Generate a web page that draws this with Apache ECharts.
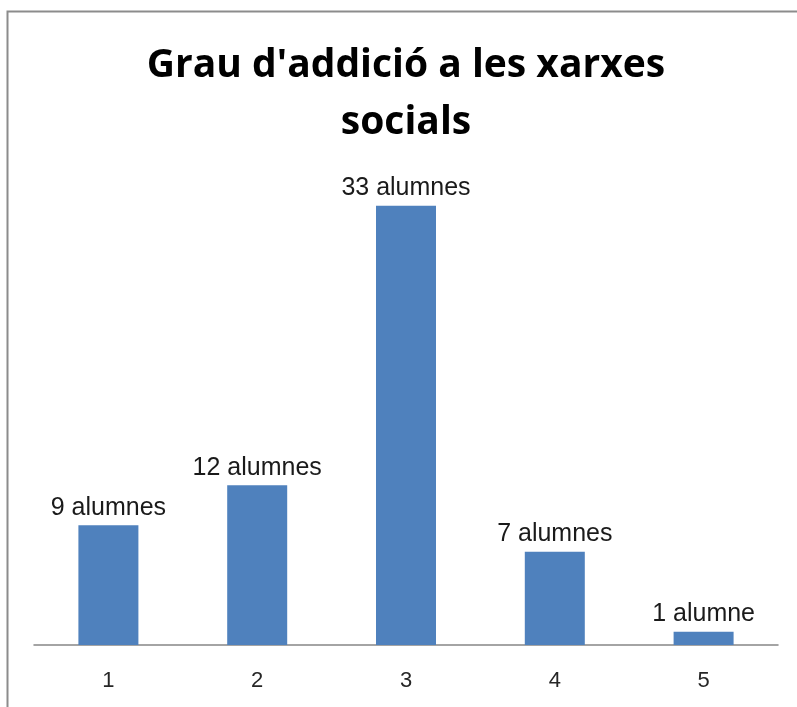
<!DOCTYPE html>
<html>
<head>
<meta charset="utf-8">
<script src="https://cdn.jsdelivr.net/npm/echarts@6/dist/echarts.min.js"></script>
<style>
  html, body { margin: 0; padding: 0; background: #fff; }
  #chart { width: 797px; height: 707px; }
</style>
</head>
<body>
<div id="chart"></div>
<script>
var titleText = "Grau d'addició a les xarxes\nsocials"
var categories = ['1', '2', '3', '4', '5']
var values = [9, 12, 33, 7, 1]
var labelTexts = ['9 alumnes', '12 alumnes', '33 alumnes', '7 alumnes', '1 alumne']

var chart = echarts.init(document.getElementById('chart'))

chart.setOption({
  backgroundColor: '#ffffff',
  animation: false,
  graphic: [{
    // marc del gràfic
    type: 'rect',
    shape: { x: 7.5, y: 11.5, width: 900, height: 800 },
    style: { fill: 'none', stroke: '#8c8c8c', lineWidth: 2 },
    silent: true
  }, {
    // títol
    type: 'text',
    x: 406,
    y: 37,
    style: {
      text: titleText,
      align: 'center',
      verticalAlign: 'top',
      font: 'bold 39px "Open Sans"',
      lineHeight: 57,
      fill: '#000000'
    },
    silent: true
  }],
  grid: {
    left: 34,
    right: 19,
    top: 179,
    bottom: 62,
    containLabel: false
  },
  xAxis: {
    type: 'category',
    data: categories,
    axisLine: { lineStyle: { color: '#868686', width: 1.5 } },
    axisTick: { show: false },
    axisLabel: {
      margin: 25,
      fontFamily: 'Liberation Sans',
      fontSize: 22,
      color: '#262626'
    }
  },
  yAxis: {
    type: 'value',
    min: 0,
    max: 35,
    show: false,
    splitLine: { show: false }
  },
  series: [{
    type: 'bar',
    data: values,
    barWidth: 60,
    itemStyle: { color: '#4F81BD' },
    label: {
      show: true,
      position: 'top',
      distance: 5,
      fontFamily: 'Liberation Sans',
      fontSize: 25,
      color: '#1a1a1a',
      formatter: function (p) { return labelTexts[p.dataIndex] }
    }
  }]
})
</script>
</body>
</html>
